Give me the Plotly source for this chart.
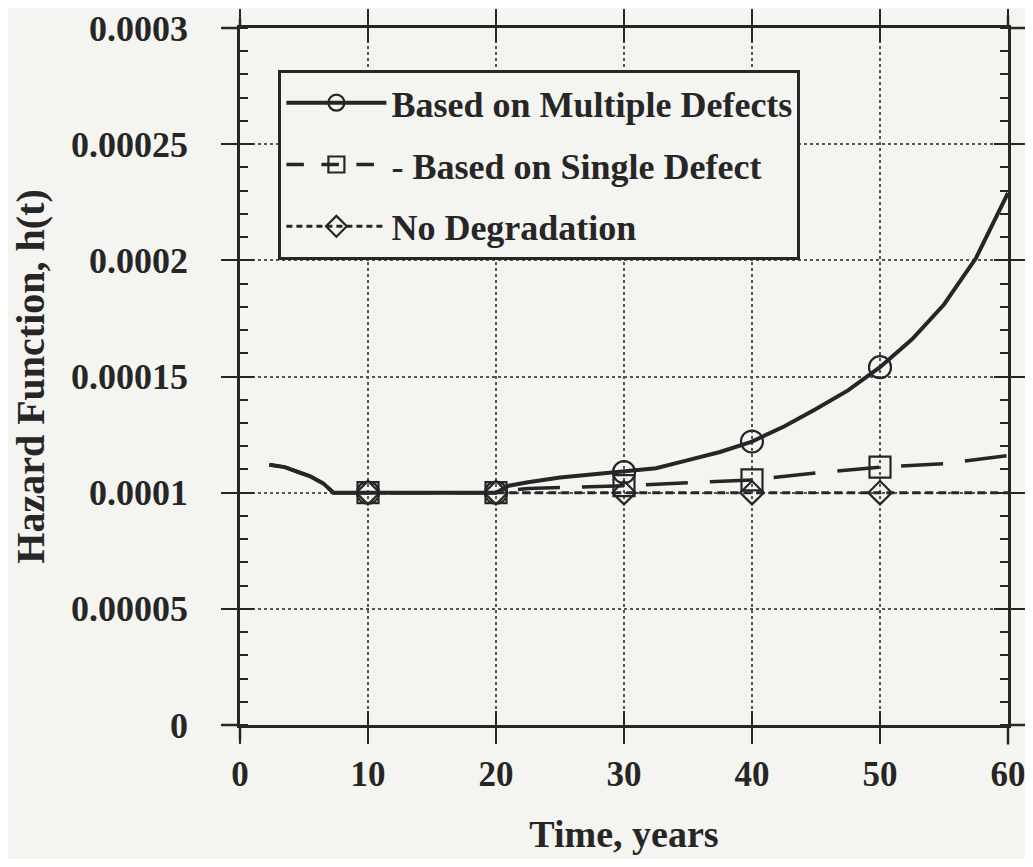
import plotly.graph_objects as go

# ---------------- data (hazard values) ----------------
t_multi = [2.3, 3.5, 4.5, 5.5, 6.5, 7.3, 10, 15, 20, 21, 22.5, 25, 27.5, 30,
           32.5, 35, 37.5, 40, 42.5, 45, 47.5, 50, 52.5, 55, 57.5, 60]
h_multi = [1.12e-4, 1.11e-4, 1.09e-4, 1.07e-4, 1.04e-4, 1.00e-4, 1.00e-4, 1.00e-4,
           1.00e-4, 1.03e-4, 1.045e-4, 1.065e-4, 1.078e-4, 1.088e-4, 1.105e-4,
           1.14e-4, 1.175e-4, 1.22e-4, 1.285e-4, 1.36e-4, 1.44e-4, 1.54e-4,
           1.66e-4, 1.81e-4, 2.01e-4, 2.29e-4]

t_single = [2.3, 3.5, 4.5, 5.5, 6.5, 7.3, 10, 15, 20, 21, 22.5, 25, 27.5, 30,
            35, 40, 45, 50, 55, 60]
h_single = [1.12e-4, 1.11e-4, 1.09e-4, 1.07e-4, 1.04e-4, 1.00e-4, 1.00e-4, 1.00e-4,
            1.00e-4, 1.01e-4, 1.018e-4, 1.022e-4, 1.026e-4, 1.03e-4, 1.043e-4,
            1.055e-4, 1.085e-4, 1.11e-4, 1.125e-4, 1.16e-4]

t_none = [2.3, 3.5, 4.5, 5.5, 6.5, 7.3, 10, 20, 30, 40, 50, 60]
h_none = [1.12e-4, 1.11e-4, 1.09e-4, 1.07e-4, 1.04e-4, 1.00e-4, 1.00e-4, 1.00e-4,
          1.00e-4, 1.00e-4, 1.00e-4, 1.00e-4]

# marker positions
t_mark_multi = [10, 20, 30, 40, 50]
h_mark_multi = [1.00e-4, 1.00e-4, 1.088e-4, 1.22e-4, 1.54e-4]
t_mark_single = [10, 20, 30, 40, 50]
h_mark_single = [1.00e-4, 1.00e-4, 1.03e-4, 1.055e-4, 1.11e-4]
t_mark_none = [10, 20, 30, 40, 50]
h_mark_none = [1.00e-4, 1.00e-4, 1.00e-4, 1.00e-4, 1.00e-4]

names = ["Based on Multiple Defects", "- Based on Single Defect", "No Degradation"]

x_ticks = [0, 10, 20, 30, 40, 50, 60]
y_ticks = [0, 0.00005, 0.0001, 0.00015, 0.0002, 0.00025, 0.0003]
y_ticktext = ["0", "0.00005", "0.0001", "0.00015", "0.0002", "0.00025", "0.0003"]

# ---------------- styling ----------------
BG = "#f4f4f1"
INK = "#262626"
FONT = "Liberation Serif"

fig = go.Figure()

series = [
    (t_none, h_none, t_mark_none, h_mark_none, names[2], "8px,5px", 3, "diamond-open", 18),
    (t_single, h_single, t_mark_single, h_mark_single, names[1], "42px,22px", 3.5, "square-open", 21),
    (t_multi, h_multi, t_mark_multi, h_mark_multi, names[0], "solid", 4, "circle-open", 22),
]

for tx, hy, mx, my, nm, dash, lw, sym, ms in series:
    fig.add_trace(go.Scatter(x=tx, y=hy, mode="lines", showlegend=False,
                             line=dict(color=INK, width=lw, dash=dash),
                             hoverinfo="skip"))
    fig.add_trace(go.Scatter(x=mx, y=my, mode="markers", showlegend=False,
                             marker=dict(symbol=sym, size=ms, color=INK, line=dict(width=2.2)),
                             hoverinfo="skip"))

legend_dash = {names[0]: "solid", names[1]: "longdash", names[2]: "6px,4px"}
# legend entries (in reference order)
for tx, hy, mx, my, nm, dash, lw, sym, ms in reversed(series):
    fig.add_trace(go.Scatter(x=[None], y=[None], mode="lines+markers", name=nm,
                             legendgroup=nm,
                             line=dict(color=INK, width=lw, dash=legend_dash[nm]),
                             marker=dict(symbol=sym, size=ms - 2, color=INK, line=dict(width=2.2))))

# dummy traces for overlay axes (give crossing ticks)
fig.add_trace(go.Scatter(x=[None], y=[None], xaxis="x2", yaxis="y2",
                         showlegend=False, hoverinfo="skip"))
fig.add_trace(go.Scatter(x=[None], y=[None], xaxis="x", yaxis="y3",
                         showlegend=False, hoverinfo="skip"))

fig.update_layout(
    width=1017, height=851,
    margin=dict(l=232, r=17, t=20, b=134, autoexpand=False),
    paper_bgcolor=BG, plot_bgcolor=BG,
    font=dict(family=FONT, size=30, color=INK),
    legend=dict(x=0.05, y=0.94, xanchor="left", yanchor="top",
                bgcolor=BG, bordercolor=INK, borderwidth=3,
                font=dict(family=FONT, size=36, color=INK, weight="bold"),
                itemwidth=100, tracegroupgap=12, traceorder="grouped"),
    xaxis=dict(range=[0, 60], tickvals=x_ticks, ticks="outside", ticklen=16, tickwidth=2,
               tickcolor=INK, showline=True, linewidth=2.5, linecolor=INK, mirror="ticks",
               showgrid=True, gridcolor="#555", griddash="dot", gridwidth=1.5,
               zeroline=False, automargin=False, ticklabeloverflow="allow",
               tickfont=dict(family=FONT, size=35, color=INK, weight="bold"),
               ticklabelstandoff=0,
               title=dict(text="Time, years", font=dict(family=FONT, size=38, color=INK, weight="bold"),
                          standoff=28)),
    xaxis2=dict(overlaying="x", range=[0, 60], tickvals=x_ticks, ticks="inside", ticklen=14,
                tickwidth=2, tickcolor=INK, showticklabels=False, showgrid=False,
                showline=False, zeroline=False, mirror="ticks", anchor="y", side="bottom",
                automargin=False),
    yaxis=dict(range=[0, 0.0003], tickvals=y_ticks, ticktext=y_ticktext, ticks="outside",
               ticklen=16, tickwidth=2, tickcolor=INK, showline=True, linewidth=2.5,
               linecolor=INK, mirror="ticks", showgrid=True, gridcolor="#555",
               griddash="dot", gridwidth=1.5, zeroline=False, automargin=False,
               ticklabeloverflow="allow",
               tickfont=dict(family=FONT, size=36, color=INK, weight="bold"),
               ticklabelstandoff=26,
               minor=dict(ticks="inside", ticklen=8, tickwidth=1.5, tickcolor=INK,
                          dtick=0.00001, showgrid=False),
               title=dict(text="Hazard Function, h(t)",
                          font=dict(family=FONT, size=40, color=INK, weight="bold"),
                          standoff=30)),
    yaxis2=dict(overlaying="y", range=[0, 0.0003], tickvals=y_ticks, ticks="inside",
                ticklen=14, tickwidth=2, tickcolor=INK, showticklabels=False,
                showgrid=False, showline=False, zeroline=False, mirror="ticks",
                anchor="x", side="left", automargin=False),
    yaxis3=dict(overlaying="y", range=[0, 0.0003], tickvals=y_ticks, ticks="inside",
                ticklen=14, tickwidth=2, tickcolor=INK, showticklabels=False,
                showgrid=False, showline=False, zeroline=False,
                anchor="x", side="right", automargin=False,
                minor=dict(ticks="inside", ticklen=8, tickwidth=1.5, tickcolor=INK,
                           dtick=0.00001, showgrid=False)),
)

# slight overshoot of the frame lines beyond the plot corners
ext = [
    (-0.024, 0, 0, 0), (1, 0, 1.028, 0), (-0.024, 1, 0, 1), (1, 1, 1.028, 1),
    (0, -0.022, 0, 0), (0, 1, 0, 1.014), (1, -0.028, 1, 0), (1, 1, 1, 1.018),
]
for x0, y0, x1, y1 in ext:
    fig.add_shape(type="line", xref="paper", yref="paper", x0=x0, y0=y0, x1=x1, y1=y1,
                  line=dict(color=INK, width=2.5))

fig.write_html("out.html")
